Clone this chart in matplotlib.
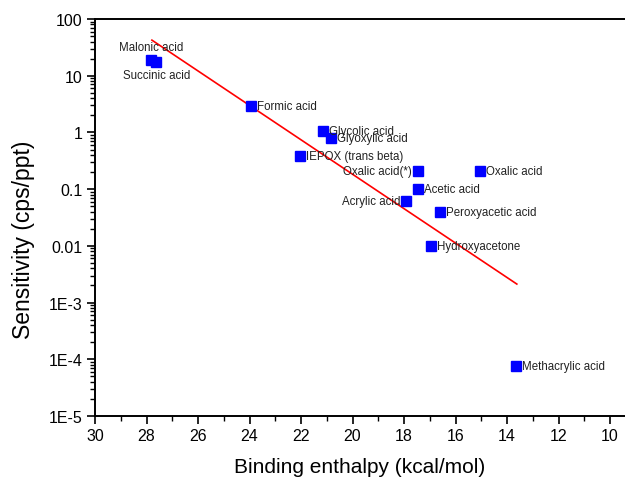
import matplotlib
matplotlib.use("Agg")
import matplotlib.pyplot as plt
from matplotlib.ticker import FixedLocator, FixedFormatter, LogLocator, NullFormatter, MultipleLocator

plt.rcParams['font.family'] = ['Liberation Sans', 'DejaVu Sans']

names = ["Malonic acid", "Succinic acid", "Formic acid", "Glycolic acid", "Glyoxylic acid",
         "IEPOX (trans beta)", "Oxalic acid(*)", "Oxalic acid", "Acetic acid", "Acrylic acid",
         "Peroxyacetic acid", "Hydroxyacetone", "Methacrylic acid"]
enthalpy = [27.83, 27.63, 23.95, 21.13, 20.85, 22.04, 17.47, 15.05, 17.44, 17.92, 16.6, 16.95, 13.64]
sensitivity = [18.9, 17.5, 2.88, 1.07, 0.787, 0.38, 0.209, 0.209, 0.099, 0.063, 0.040, 0.0098, 7.7e-5]

fit_x = [27.79, 13.62]
fit_y = [42.4, 0.00212]

ytick_vals = [1e2, 1e1, 1e0, 1e-1, 1e-2, 1e-3, 1e-4, 1e-5]
ytick_labels = ["100", "10", "1", "0.1", "0.01", "1E-3", "1E-4", "1E-5"]
xtick_vals = [30, 28, 26, 24, 22, 20, 18, 16, 14, 12, 10]

# label placement: (dx, dy in pixels, ha, va)
placement = {
    "Malonic acid": (0, 13, "center", "center"),
    "Succinic acid": (1, -13, "center", "center"),
    "Oxalic acid(*)": (-6, 0, "right", "center"),
    "Acrylic acid": (-6, 0, "right", "center"),
}

fig = plt.figure(figsize=(6.25, 4.81), dpi=100)
ax = fig.add_axes([95/625, 1 - 417/481, 1 - 95/625, (417 - 20)/481])

ax.plot(fit_x, fit_y, color="#ff0000", lw=1.2, zorder=2)
ax.plot(enthalpy, sensitivity, "s", color="#0000ff", ms=7, mec="#0000ff", zorder=3)

for n, x, y in zip(names, enthalpy, sensitivity):
    dx, dy, ha, va = placement.get(n, (6, 0, "left", "center"))
    ax.annotate(n, (x, y), xytext=(dx, dy), textcoords="offset pixels",
                ha=ha, va=va, fontsize=8.3, color="#222222", zorder=4)

ax.set_yscale("log")
ax.set_xlim(30, 9.42)
ax.set_ylim(1e-5, 1e2)

ax.xaxis.set_major_locator(FixedLocator(xtick_vals))
ax.xaxis.set_minor_locator(MultipleLocator(1))
ax.yaxis.set_major_locator(FixedLocator(ytick_vals))
ax.yaxis.set_major_formatter(FixedFormatter(ytick_labels))
ax.yaxis.set_minor_locator(LogLocator(base=10, subs=range(2, 10), numticks=20))
ax.yaxis.set_minor_formatter(NullFormatter())

for s in ["left", "bottom", "top"]:
    ax.spines[s].set_linewidth(1.4)
ax.spines["right"].set_visible(False)

ax.tick_params(axis="both", which="major", direction="out", length=6, width=1.2,
               labelsize=11.5, top=False, right=False, pad=3)
ax.tick_params(axis="both", which="minor", direction="out", length=3.5, width=1.0,
               top=False, right=False)

ax.set_xlabel("Binding enthalpy (kcal/mol)", fontsize=15, va="top")
ax.xaxis.set_label_coords(0.5, -(458 - 417) / 397)
ax.set_ylabel("Sensitivity (cps/ppt)", fontsize=16.5, va="center")
ax.yaxis.set_label_coords((24 - 95) / 530, (417 - 240) / 397)

fig.savefig("out.png", dpi=100)
